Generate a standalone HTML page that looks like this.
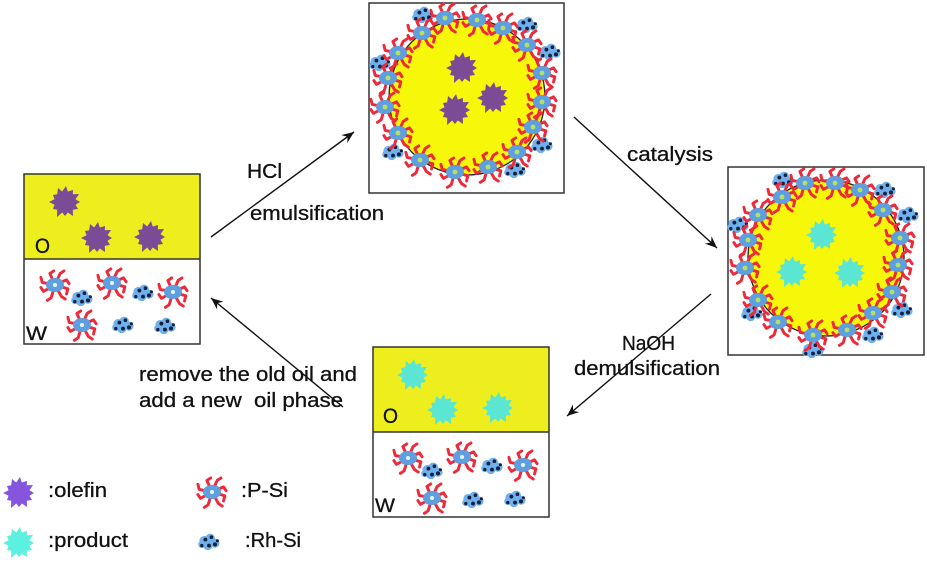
<!DOCTYPE html>
<html><head><meta charset="utf-8"><style>
html,body{margin:0;padding:0;background:#fff;}
svg{display:block;}
text{font-family:"Liberation Sans",sans-serif;fill:#111;stroke:#111;stroke-width:0.3;}
</style></head><body>
<svg width="927" height="565" viewBox="0 0 927 565" xmlns="http://www.w3.org/2000/svg">
<defs>
<symbol id="star" viewBox="-17 -17 34 34" overflow="visible">
<polygon points="15,0 10.5,2.8 13,7 7.8,7.8 8,14 2.8,10.5 0,14 -2.8,10.5 -8,15 -7.8,7.8 -12,7 -10.5,2.8 -16,0 -10.5,-2.8 -12,-7 -7.8,-7.8 -7,-14 -2.8,-10.5 1,-16 2.8,-10.5 8,-12 7.8,-7.8 14,-8 10.5,-2.8"/>
</symbol>
<g id="psi"><g transform="scale(1.28)">
<g stroke="#ee2a3a" stroke-width="2.3" fill="none" stroke-linecap="round" stroke-linejoin="round">
<path d="M0 0 L-4 -9 L-1 -11"/>
<path d="M0 0 L4 -9 L7 -11"/>
<path d="M0 0 L9 -4 L11 -1"/>
<path d="M0 0 L10 3 L9 7"/>
<path d="M0 0 L5 9 L8 11"/>
<path d="M0 0 L-3 10 L-6 12"/>
<path d="M0 0 L-9 5 L-11 2"/>
<path d="M0 0 L-10 -2 L-11 -6"/>
</g>
<ellipse cx="0" cy="0" rx="7" ry="5.5" fill="#5e9fe0"/>
<circle cx="-3" cy="2" r="3" fill="#5e9fe0"/>
<circle cx="3" cy="-2" r="3" fill="#5e9fe0"/>
<circle cx="0" cy="0" r="1.6" fill="#e8f4ff"/>
</g></g>
<g id="psic">
<use href="#psi"/>
<circle cx="0" cy="0" r="2.4" fill="#b8e060"/>
</g>
<g id="rh"><g transform="scale(1.2)">
<g fill="#6fb0ee">
<circle cx="-4" cy="-1" r="4"/>
<circle cx="1" cy="-3" r="4"/>
<circle cx="5" cy="1" r="3.8"/>
<circle cx="-1" cy="3" r="3.8"/>
<circle cx="-6" cy="2" r="3"/>
</g>
<g fill="#15203a">
<circle cx="-3" cy="-2" r="1.6"/>
<circle cx="2" cy="-4" r="1.5"/>
<circle cx="5" cy="2" r="1.7"/>
<circle cx="0" cy="3" r="1.6"/>
<circle cx="-6" cy="3" r="1.4"/>
<circle cx="7" cy="-1" r="1.3"/>
</g>
</g></g>
<marker id="ah" markerWidth="14" markerHeight="12" refX="12" refY="5" orient="auto" markerUnits="userSpaceOnUse">
<path d="M0,0 L12,5 L0,10 L4,5 z" fill="#111"/>
</marker>
</defs>

<!-- Left box -->
<rect x="24" y="174" width="176" height="85" fill="#eeee1e"/>
<rect x="24" y="174" width="176" height="170" fill="none" stroke="#333" stroke-width="1.5"/>
<line x1="24" y1="259" x2="200" y2="259" stroke="#333" stroke-width="1.5"/>
<g fill="#7b4b95">
<use href="#star" x="48" y="185" width="34" height="34"/>
<use href="#star" x="80" y="221" width="34" height="34"/>
<use href="#star" x="133" y="220" width="34" height="34"/>
</g>
<text x="35" y="253" font-size="21" textLength="15" lengthAdjust="spacingAndGlyphs">O</text>
<text x="26" y="340" font-size="19" textLength="21" lengthAdjust="spacingAndGlyphs">W</text>
<use href="#psi" x="55" y="285"/>
<use href="#psi" x="112" y="283"/>
<use href="#psi" x="173" y="292"/>
<use href="#psi" x="82" y="325"/>
<use href="#rh" x="82" y="298"/>
<use href="#rh" x="143" y="293"/>
<use href="#rh" x="123" y="325"/>
<use href="#rh" x="165" y="326"/>

<!-- Top box -->
<rect x="369" y="3" width="195" height="190" fill="none" stroke="#333" stroke-width="1.5"/>
<circle cx="467" cy="97" r="78" fill="#f7f70a" stroke="#222" stroke-width="1.3"/>
<g fill="#7b4b95">
<use href="#star" x="445" y="51" width="34" height="34"/>
<use href="#star" x="438" y="93" width="34" height="34"/>
<use href="#star" x="476" y="81" width="34" height="34"/>
</g>
<use href="#rh" x="423" y="15"/>
<use href="#rh" x="527" y="25"/>
<use href="#rh" x="550" y="52"/>
<use href="#rh" x="542" y="145"/>
<use href="#rh" x="515" y="170"/>
<use href="#rh" x="393" y="152"/>
<use href="#rh" x="380" y="63"/>
<use href="#psic" x="445" y="18"/>
<use href="#psic" x="477" y="20"/>
<use href="#psic" x="503" y="28"/>
<use href="#psic" x="527" y="45"/>
<use href="#psic" x="542" y="73"/>
<use href="#psic" x="542" y="102"/>
<use href="#psic" x="533" y="127"/>
<use href="#psic" x="517" y="152"/>
<use href="#psic" x="488" y="167"/>
<use href="#psic" x="455" y="172"/>
<use href="#psic" x="420" y="160"/>
<use href="#psic" x="398" y="133"/>
<use href="#psic" x="385" y="107"/>
<use href="#psic" x="388" y="78"/>
<use href="#psic" x="398" y="53"/>
<use href="#psic" x="422" y="33"/>

<!-- Right box -->
<rect x="728" y="167" width="196" height="188" fill="none" stroke="#333" stroke-width="1.5"/>
<circle cx="826" cy="258" r="78" fill="#f7f70a" stroke="#222" stroke-width="1.3"/>
<g fill="#5ae6d2">
<use href="#star" x="805" y="218" width="34" height="34"/>
<use href="#star" x="775" y="255" width="34" height="34"/>
<use href="#star" x="833" y="256" width="34" height="34"/>
</g>
<use href="#rh" x="783" y="180"/>
<use href="#rh" x="885" y="190"/>
<use href="#rh" x="908" y="215"/>
<use href="#rh" x="738" y="225"/>
<use href="#rh" x="902" y="310"/>
<use href="#rh" x="873" y="335"/>
<use href="#rh" x="752" y="313"/>
<use href="#rh" x="813" y="350"/>
<use href="#psic" x="805" y="183"/>
<use href="#psic" x="835" y="183"/>
<use href="#psic" x="860" y="190"/>
<use href="#psic" x="883" y="210"/>
<use href="#psic" x="900" y="238"/>
<use href="#psic" x="898" y="265"/>
<use href="#psic" x="892" y="292"/>
<use href="#psic" x="873" y="313"/>
<use href="#psic" x="847" y="330"/>
<use href="#psic" x="813" y="335"/>
<use href="#psic" x="778" y="322"/>
<use href="#psic" x="758" y="300"/>
<use href="#psic" x="745" y="268"/>
<use href="#psic" x="748" y="240"/>
<use href="#psic" x="758" y="215"/>
<use href="#psic" x="782" y="197"/>

<!-- Bottom box -->
<rect x="373" y="347" width="176" height="85" fill="#eeee1e"/>
<rect x="373" y="347" width="176" height="170" fill="none" stroke="#333" stroke-width="1.5"/>
<line x1="373" y1="432" x2="549" y2="432" stroke="#333" stroke-width="1.5"/>
<g fill="#5ae6d2">
<use href="#star" x="396" y="358" width="34" height="34"/>
<use href="#star" x="426" y="393" width="34" height="34"/>
<use href="#star" x="481" y="391" width="34" height="34"/>
</g>
<text x="383" y="423" font-size="21" textLength="15" lengthAdjust="spacingAndGlyphs">O</text>
<text x="375" y="512" font-size="19" textLength="20" lengthAdjust="spacingAndGlyphs">W</text>
<use href="#psi" x="408" y="458"/>
<use href="#psi" x="462" y="457"/>
<use href="#psi" x="523" y="465"/>
<use href="#psi" x="432" y="498"/>
<use href="#rh" x="432" y="471"/>
<use href="#rh" x="492" y="466"/>
<use href="#rh" x="473" y="500"/>
<use href="#rh" x="515" y="499"/>

<!-- Arrows -->
<g stroke="#111" stroke-width="1.4" fill="none">
<line x1="211" y1="237" x2="354" y2="132" marker-end="url(#ah)"/>
<line x1="574" y1="117" x2="717" y2="248" marker-end="url(#ah)"/>
<line x1="711" y1="294" x2="567" y2="416" marker-end="url(#ah)"/>
<line x1="343" y1="407" x2="211" y2="298" marker-end="url(#ah)"/>
</g>

<!-- Labels -->
<g font-size="20">
<text x="247" y="178" textLength="35" lengthAdjust="spacingAndGlyphs">HCl</text>
<text x="250" y="220" textLength="134" lengthAdjust="spacingAndGlyphs">emulsification</text>
<text x="627" y="161" textLength="86" lengthAdjust="spacingAndGlyphs">catalysis</text>
<text x="622" y="350" textLength="53" lengthAdjust="spacingAndGlyphs">NaOH</text>
<text x="574" y="375" textLength="146" lengthAdjust="spacingAndGlyphs">demulsification</text>
<text x="139" y="381" textLength="218" lengthAdjust="spacingAndGlyphs">remove the old oil and</text>
<text x="139" y="407" textLength="204" lengthAdjust="spacingAndGlyphs">add a new&#160; oil phase</text>
<text x="48" y="497" textLength="59" lengthAdjust="spacingAndGlyphs">:olefin</text>
<text x="48" y="547" textLength="80" lengthAdjust="spacingAndGlyphs">:product</text>
<text x="241" y="497" textLength="47" lengthAdjust="spacingAndGlyphs">:P-Si</text>
<text x="245" y="547" textLength="56" lengthAdjust="spacingAndGlyphs">:Rh-Si</text>
</g>

<!-- Legend icons -->
<use href="#star" x="2" y="476" width="34" height="34" fill="#8655dd"/>
<use href="#star" x="2" y="526" width="34" height="34" fill="#5cf0e0"/>
<use href="#psi" x="212" y="492"/>
<use href="#rh" x="209" y="542"/>
</svg>
</body></html>
